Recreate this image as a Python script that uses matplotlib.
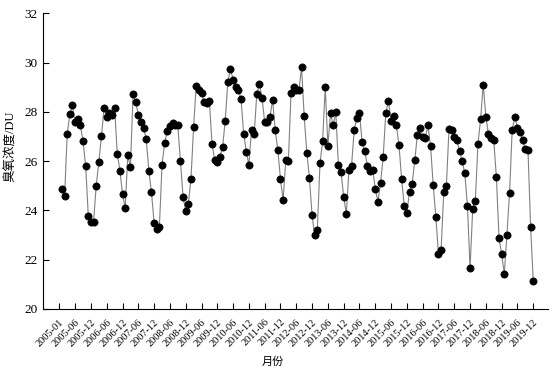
import matplotlib
matplotlib.use("Agg")
import matplotlib.pyplot as plt

# Monthly ozone column (DU), 2005-01 .. 2019-12
ozone = [
    24.85, 24.58, 27.11, 27.90, 28.27, 27.57, 27.73, 27.45, 26.80, 25.82,
    23.78, 23.53, 23.53, 24.99, 25.96, 27.01, 28.16, 27.81, 27.97, 27.88,
    28.16, 26.31, 25.62, 24.67, 24.08, 26.23, 25.76, 28.72, 28.40, 27.89,
    27.58, 27.34, 26.90, 25.61, 24.73, 23.50, 23.26, 23.32, 25.85, 26.73,
    27.23, 27.42, 27.54, 27.45, 27.45, 25.99, 24.55, 23.96, 24.28, 25.28,
    27.39, 29.07, 28.90, 28.77, 28.40, 28.34, 28.43, 26.69, 26.05, 25.97,
    26.17, 26.57, 27.63, 29.21, 29.74, 29.31, 28.99, 28.88, 28.53, 27.12,
    26.39, 25.85, 27.28, 27.09, 28.72, 29.13, 28.55, 27.59, 27.59, 27.81,
    28.48, 27.26, 26.45, 25.26, 24.42, 26.04, 26.01, 28.77, 28.99, 28.90,
    28.88, 29.82, 27.82, 26.34, 25.30, 23.80, 22.99, 23.22, 25.91, 26.81,
    29.01, 26.63, 27.95, 27.45, 27.99, 25.84, 25.55, 24.55, 23.86, 25.63,
    25.82, 27.28, 27.74, 27.97, 26.76, 26.41, 25.81, 25.62, 25.66, 24.89,
    24.36, 25.12, 26.17, 27.96, 28.45, 27.62, 27.85, 27.46, 26.65, 25.28,
    24.18, 23.90, 24.76, 25.07, 26.03, 27.08, 27.35, 26.97, 26.94, 27.45,
    26.61, 25.03, 23.74, 22.23, 22.39, 24.73, 24.99, 27.30, 27.27, 27.00,
    26.85, 26.42, 26.01, 25.50, 24.20, 21.66, 24.04, 24.39, 26.70, 27.70,
    29.11, 27.80, 27.09, 26.92, 26.84, 25.35, 22.87, 22.23, 21.42, 23.01,
    24.72, 27.27, 27.80, 27.35, 27.17, 26.85, 26.49, 26.45, 23.31, 21.12,
]
months = list(range(1, len(ozone) + 1))

tick_pos = list(range(0, 181, 6))
tick_labels = ["2005-01"]
for yr in range(2005, 2020):
    tick_labels += [f"{yr}-06", f"{yr}-12"]

serif = "Liberation Serif"
cjk = ["Liberation Serif", "Noto Sans CJK SC"]

fig = plt.figure(figsize=(5.57, 3.71), dpi=100)
ax = fig.add_axes([43 / 557, 1 - 309 / 371, 505 / 557, (309 - 13.3) / 371])

ax.plot(months, ozone, color="#808080", lw=0.8, marker="o",
        markersize=5.2, markerfacecolor="black", markeredgecolor="black",
        markeredgewidth=0.5, zorder=3)

ax.set_xlim(-6.2, 185.6)
ax.set_ylim(20, 32)
ax.set_yticks([20, 22, 24, 26, 28, 30, 32])
ax.set_xticks(tick_pos)
ax.set_xticklabels(tick_labels, rotation=45, ha="right", rotation_mode="anchor",
                   fontsize=7.5, family=serif)
for lab in ax.get_yticklabels():
    lab.set_fontfamily(serif)
    lab.set_fontsize(9.5)

ax.tick_params(direction="in", length=4, width=0.8, colors="black")
ax.tick_params(axis="x", pad=6)
ax.tick_params(axis="y", pad=4)
for s in ["top", "right"]:
    ax.spines[s].set_visible(False)
for s in ["left", "bottom"]:
    ax.spines[s].set_linewidth(0.8)

fig.text(11 / 557, 1 - 146 / 371, "臭氧浓度/DU", rotation=90, ha="center",
         va="center", fontsize=9, family=cjk)
fig.text(273 / 557, 1 - 362 / 371, "月份", ha="center", va="center",
         fontsize=8, family=cjk)

fig.savefig("out.png", dpi=100)
